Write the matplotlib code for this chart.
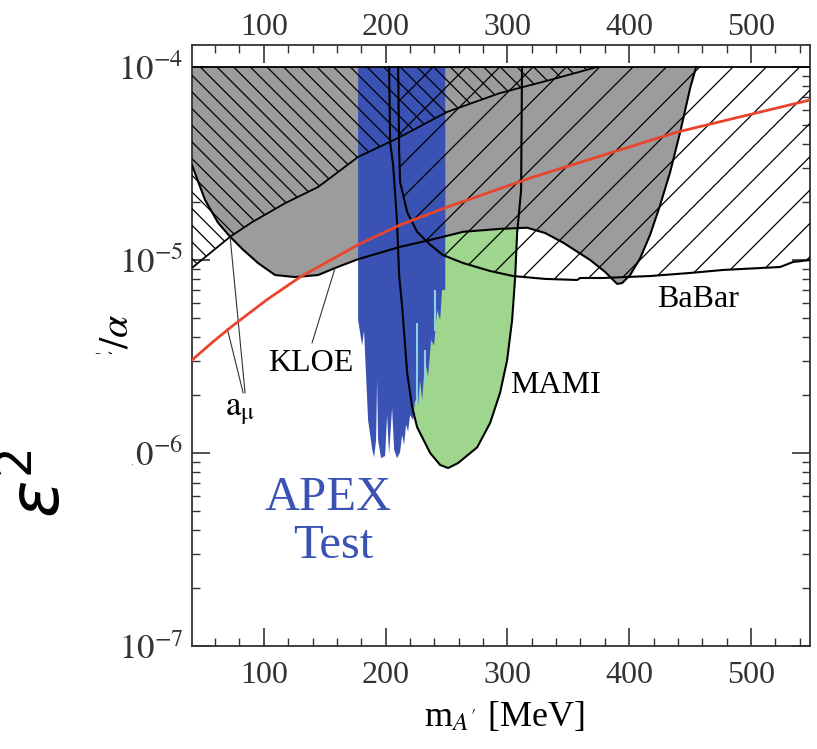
import numpy as np
import matplotlib.pyplot as plt
from matplotlib.patches import Polygon, Rectangle
from matplotlib.ticker import MultipleLocator, LogLocator, NullFormatter, NullLocator

plt.rcParams['font.family'] = ['Liberation Serif', 'DejaVu Serif']
plt.rcParams['mathtext.fontset'] = 'stix'
plt.rcParams['hatch.linewidth'] = 0.9

TOP = 1e-4  # all exclusion regions are drawn up to this value

# muon g-2 exclusion boundary (hatched "\" above it)
amu_x = [41, 72.3, 90.3, 117.5, 144.6, 177.4, 210.3, 250.5, 294.0, 335.1, 373.7]
amu_y = [9.1e-6, 1.32e-5, 1.57e-5, 1.97e-5, 2.39e-5, 3.42e-5, 4.29e-5, 5.85e-5,
         7.33e-5, 8.57e-5, 1.0e-4]

# gray region (a_e + KLOE) lower boundary
kloe_x = [41, 51.7, 62.4, 72.3, 83.0, 95.3, 109.2, 125.7, 144.6, 158.5, 177.4, 211.9,
          236.6, 263.7, 294.0, 316.2, 331.0, 345.8, 368.0, 380.3, 390.1, 394.3, 400.8,
          409.0, 417.2, 425.5, 433.7, 441.9, 450.1, 455.0]
kloe_y = [3.10e-5, 2.05e-5, 1.56e-5, 1.32e-5, 1.13e-5, 9.64e-6, 8.36e-6, 8.16e-6,
          8.36e-6, 9.09e-6, 1.01e-5, 1.17e-5, 1.27e-5, 1.40e-5, 1.45e-5, 1.47e-5,
          1.38e-5, 1.23e-5, 1.0e-5, 8.67e-6, 7.52e-6, 7.60e-6, 8.36e-6, 1.02e-5,
          1.35e-5, 1.93e-5, 2.86e-5, 4.60e-5, 7.78e-5, 1.0e-4]

# BaBar boundary (hatched "/" above it)
babar_x = [210.3, 211.1, 211.9, 217.7, 225.9, 236.6, 247.2, 263.7, 285.8, 304.7, 331.0,
           357.3, 359.8, 378.6, 417.2, 450.1, 477.2, 524.0, 534.7, 548.7]
babar_y = [1e-4, 3.72e-5, 2.54e-5, 1.77e-5, 1.40e-5, 1.20e-5, 1.06e-5, 9.64e-6, 8.77e-6,
           8.26e-6, 7.98e-6, 7.88e-6, 8.07e-6, 8.07e-6, 8.26e-6, 8.57e-6, 8.88e-6,
           9.20e-6, 9.77e-6, 1.0e-5]

# MAMI contour
mami_x = [202.9, 203.7, 206.2, 209.4, 211.1, 213.6, 217.7, 221.8, 225.9, 236.6, 244.8,
          251.3, 259.5, 275.2, 285.8, 294.0, 299.8, 303.9, 306.4, 308.0, 311.3, 312.0]
mami_y = [1e-4, 4.08e-5, 3.10e-5, 1.57e-5, 8.36e-6, 5.70e-6, 2.60e-6, 1.73e-6, 1.36e-6,
          1.0e-6, 8.67e-7, 8.36e-7, 8.87e-7, 1.07e-6, 1.43e-6, 2.05e-6, 3.03e-6,
          4.89e-6, 8.17e-6, 1.38e-5, 2.31e-5, 1.0e-4]

# APEX test run: jagged lower edge of the excluded band
apex_x = [177.4, 180.7, 182.3, 185.6, 189.0, 190.6, 192.2, 193.0, 193.8, 196.3, 199.6,
          201.2, 202.9, 205.3, 207.0, 209.4, 211.9, 213.6, 215.2, 216.8, 218.5, 220.1,
          222.6, 224.2, 226.7, 228.3, 230.0, 232.4, 234.9, 237.4, 239.8, 242.3, 244.8,
          246.4, 249.0]
apex_y = [4.9e-6, 3.6e-6, 4.3e-6, 1.48e-6, 1.04e-6, 9.5e-7, 1.17e-6, 2.4e-6, 1.17e-6,
          9.4e-7, 9.65e-7, 1.57e-6, 9.8e-7, 1.71e-6, 1.04e-6, 9.4e-7, 1.01e-6, 1.24e-6,
          1.10e-6, 1.40e-6, 1.29e-6, 1.57e-6, 1.48e-6, 1.88e-6, 1.77e-6, 2.39e-6, 1.88e-6,
          3.0e-6, 2.5e-6, 3.85e-6, 3.6e-6, 5.5e-6, 4.9e-6, 7.0e-6, 7.0e-6]
streak_x = [225.5, 232.4, 240.6]
streak_lo = [1.8e-6, 2.3e-6, 4.3e-6]
streak_hi = [4.7e-6, 3.4e-6, 7.0e-6]

# a_mu favoured curve
fav_x = [41, 58, 74.7, 102.7, 129.8, 177.4, 211.9, 250.5, 321.1, 439.4, 548.7]
fav_y = [3.03e-6, 3.76e-6, 4.58e-6, 6.24e-6, 8.16e-6, 1.20e-5, 1.52e-5, 1.88e-5,
         2.69e-5, 4.60e-5, 6.75e-5]

mass_ticks = [100, 200, 300, 400, 500]

fig = plt.figure(figsize=(8.17, 7.49), dpi=100)
ax = fig.add_axes([0.2350, 0.1375, 0.7564, 0.8024])
ax.set_yscale('log')
ax.set_xlim(41, 548.5)
ax.set_ylim(1e-7, 1.3e-4)

gray = '#9c9c9c'
blue = '#3a52b4'
green = '#9dd68c'

ax.add_patch(Polygon(list(zip(mami_x, mami_y)), closed=True, fc=green, ec='none', zorder=1))
ax.add_patch(Polygon([(41, TOP)] + list(zip(kloe_x, kloe_y)), closed=True,
                     fc=gray, ec='none', zorder=2))
ax.add_patch(Polygon([(apex_x[0], TOP)] + list(zip(apex_x, apex_y)) + [(apex_x[-1], TOP)],
                     closed=True, fc=blue, ec='none', zorder=3))
ax.vlines(streak_x, streak_lo, streak_hi, colors='#8ecfe8', lw=1.5, zorder=3.5)

# hatched regions
ax.add_patch(Polygon([(41, TOP)] + list(zip(amu_x, amu_y)), closed=True,
                     fc='none', ec='black', lw=0, hatch='\\\\', zorder=4))
ax.add_patch(Polygon(list(zip(babar_x, babar_y)) + [(babar_x[-1], TOP)], closed=True,
                     fc='none', ec='black', lw=0, hatch='/', zorder=4))

# boundaries
ax.plot(amu_x, amu_y, color='black', lw=1.3, zorder=5)
ax.plot(kloe_x, kloe_y, color='black', lw=1.5, zorder=5)
ax.plot(babar_x, babar_y, color='black', lw=1.5, zorder=5)
ax.plot(mami_x, mami_y, color='black', lw=1.5, zorder=5)
ax.plot([41, 548.7], [TOP, TOP], color='black', lw=1.3, zorder=5)
ax.plot(fav_x, fav_y, color='#e8452c', lw=2, zorder=5.5)

# pointers
ax.plot([139.6, 158.5], [3.72e-6, 9.09e-6], color='#333', lw=0.8, zorder=5)
ax.plot([84.6, 72.3], [2.05e-6, 1.32e-5], color='#333', lw=0.8, zorder=5)
ax.plot([83.0, 70.0], [2.05e-6, 4.4e-6], color='#333', lw=0.8, zorder=5)

# labels
ax.text(138.8, 2.92e-6, 'KLOE', fontsize=23, ha='center', va='center', zorder=6)
ax.text(80.5, 1.67e-6, r'$\mathrm{a}_{\mathrm{\mu}}$', fontsize=25, ha='center',
        va='center', zorder=6)
ax.text(339.2, 2.25e-6, 'MAMI', fontsize=23, ha='center', va='center', zorder=6)
ax.text(456.7, 6.21e-6, 'BaBar', fontsize=23, ha='center', va='center', zorder=6)
ax.text(152.8, 5.85e-7, 'APEX', fontsize=35, color=blue, ha='center', va='center', zorder=6)
ax.text(156.9, 3.30e-7, 'Test', fontsize=35, color=blue, ha='center', va='center', zorder=6)

# axes styling
ax.set_xticks(mass_ticks)
ax.xaxis.set_minor_locator(MultipleLocator(20))
ax.set_yticks([1e-7, 1e-6, 1e-5, 1e-4])
ax.set_yticklabels([r'$10^{-7}$', r'$10^{-6}$', r'$10^{-5}$', r'$10^{-4}$'])
ax.yaxis.set_minor_locator(LogLocator(base=10, subs=np.arange(2, 10)))
ax.yaxis.set_minor_formatter(NullFormatter())
ax.tick_params(which='both', direction='in', top=True, right=True, labeltop=False,
               labelbottom=True, labelleft=True, labelright=False, colors='#333')
ax.tick_params(which='major', length=13, width=1.2)
ax.tick_params(which='minor', length=6, width=1.0)
ax.tick_params(axis='x', labelsize=23, pad=11)
ax.tick_params(axis='y', labelsize=25, pad=6)
for s in ax.spines.values():
    s.set_color('#333')
    s.set_linewidth(1.3)

top = ax.secondary_xaxis('top')
top.set_xticks(mass_ticks)
top.xaxis.set_minor_locator(NullLocator())
top.tick_params(length=0, labelsize=23, pad=2, colors='#333')
top.spines['top'].set_visible(False)

fig.text(0.618, 0.043, r"m$_{A'}$ [MeV]", fontsize=26, ha='center', va='center')
fig.text(0.1444, 0.5821, r'$\epsilon^2/\alpha$', fontsize=29, rotation=90,
         ha='center', va='top')
fig.add_artist(Rectangle((0, 0.378), 0.1616, 0.1495, transform=fig.transFigure,
                         fc='white', ec='none', zorder=5))
fig.text(0.050, 0.354, r'$\varepsilon^2$', fontsize=50, rotation=90, ha='center',
         va='center', math_fontfamily='dejavusans', zorder=6)

fig.savefig('out.png', dpi=100)
